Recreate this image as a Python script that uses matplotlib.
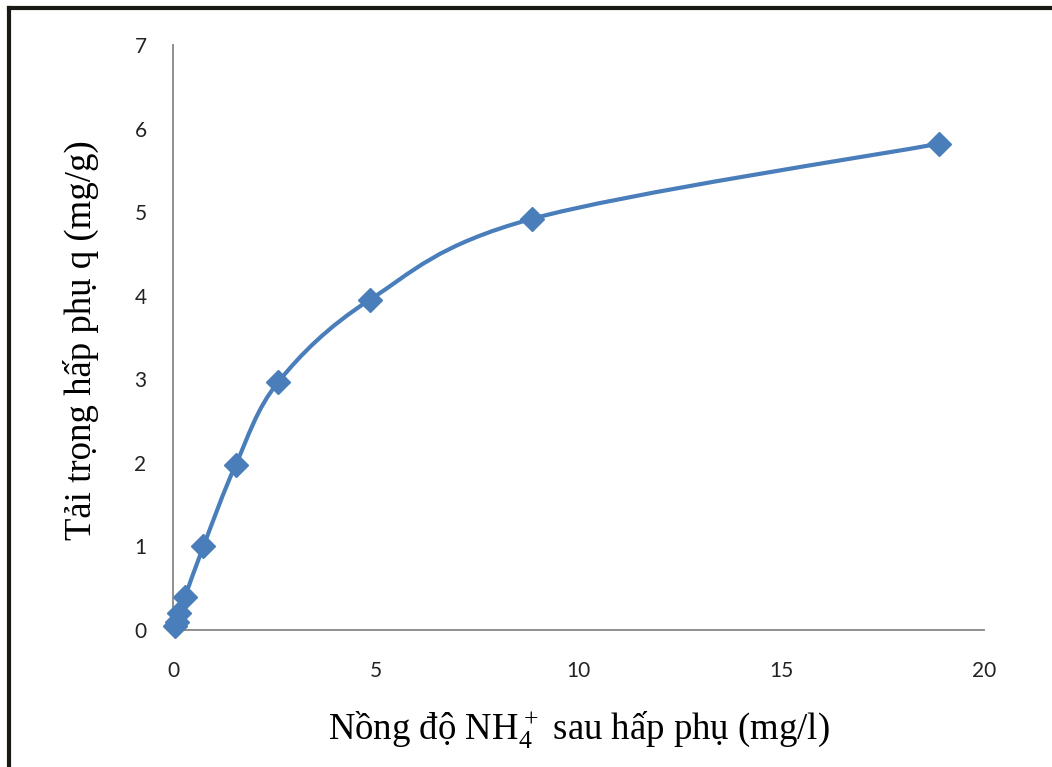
import numpy as np
import matplotlib
matplotlib.use('Agg')
import matplotlib.pyplot as plt
from matplotlib.path import Path
from matplotlib.patches import PathPatch

plt.rcParams['mathtext.fontset'] = 'custom'
plt.rcParams['mathtext.rm'] = 'Liberation Serif'

# Equilibrium NH4+ concentration (mg/l) and adsorption capacity q (mg/g)
conc = [0.05, 0.1, 0.15, 0.3, 0.75, 1.55, 2.6, 4.85, 8.85, 18.9]
q_ads = [0.05, 0.1, 0.2, 0.4, 1.0, 1.98, 2.97, 3.95, 4.92, 5.82]

x_ticks = [0, 5, 10, 15, 20]
y_ticks = [0, 1, 2, 3, 4, 5, 6, 7]

LINE_BLUE = '#4A7EBB'
AXIS_GRAY = '#868686'


def smooth_path(xs, ys, ax, tension=1 / 6):
    """Excel-like smoothed line: cubic Bezier through the points (in pixel space)."""
    pts = ax.transData.transform(np.column_stack([xs, ys]))
    verts = [pts[0]]
    codes = [Path.MOVETO]
    n = len(pts)
    for i in range(n - 1):
        p0 = pts[i - 1] if i > 0 else pts[i]
        p1 = pts[i]
        p2 = pts[i + 1]
        p3 = pts[i + 2] if i + 2 < n else pts[i + 1]
        c1 = p1 + (p2 - p0) * tension
        c2 = p2 - (p3 - p1) * tension
        verts += [c1, c2, p2]
        codes += [Path.CURVE4] * 3
    return Path(verts, codes)


fig = plt.figure(figsize=(10.52, 7.67), dpi=100)
ax = fig.add_axes([0.1644, 0.1786, 0.771, 0.7627])

ax.set_xlim(0, 20)
ax.set_ylim(0, 7)

for side in ['top', 'right']:
    ax.spines[side].set_visible(False)
for side in ['left', 'bottom']:
    ax.spines[side].set_color(AXIS_GRAY)
    ax.spines[side].set_linewidth(1.3)

ax.set_xticks(x_ticks)
ax.set_yticks(y_ticks)
ax.tick_params(length=0, labelsize=15, colors='#222222')
ax.tick_params(axis='x', pad=22)
ax.tick_params(axis='y', pad=19)
for lbl in ax.get_xticklabels() + ax.get_yticklabels():
    lbl.set_family('Lato')

# smoothed curve drawn in display coordinates
fig.canvas.draw()
path = smooth_path(conc, q_ads, ax)
patch = PathPatch(path, facecolor='none', edgecolor=LINE_BLUE, lw=3,
                  transform=None, capstyle='round', joinstyle='round')
fig.add_artist(patch)

ax.plot(conc, q_ads, linestyle='none', marker='D', markersize=12.5,
        color=LINE_BLUE, clip_on=False, zorder=5)

fig.text(0.077, 0.557, 'Tải trọng hấp phụ q (mg/g)', rotation=90,
         ha='center', va='center', fontsize=26.5, family='Liberation Serif')
fig.text(0.55, 0.048, r'Nồng độ NH$\mathregular{_4^+}$ sau hấp phụ (mg/l)',
         ha='center', va='center', fontsize=26.5, family='Liberation Serif')

# outer frame (only top and left edges are in view)
frame_kw = dict(color='#1a1a14', lw=3, transform=fig.transFigure, clip_on=False)
fig.add_artist(plt.Line2D([0.0085, 1.01], [0.9895, 0.9895], **frame_kw))
fig.add_artist(plt.Line2D([0.0085, 0.0085], [-0.01, 0.9895], **frame_kw))

fig.savefig('out.png', dpi=100)
